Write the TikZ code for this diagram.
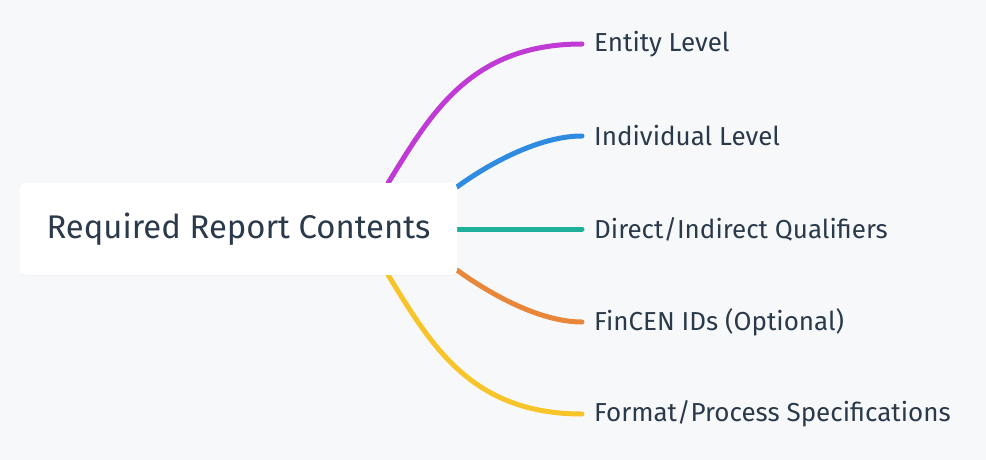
\documentclass[tikz,border=0pt]{standalone}
\usepackage{fontspec}
\setmainfont{Fira Sans}
\usetikzlibrary{positioning,calc,shadows,backgrounds}
\definecolor{bgcol}{HTML}{F7F8FA}
\definecolor{inkcol}{HTML}{2B3A4A}
\definecolor{entcol}{HTML}{C03BD6}
\definecolor{indcol}{HTML}{2E8BDF}
\definecolor{qualcol}{HTML}{1FB09A}
\definecolor{fincol}{HTML}{E8873A}
\definecolor{fmtcol}{HTML}{F7C52A}
\tikzset{
  rootbox/.style={fill=white, rounded corners=5pt, minimum width=437pt, minimum height=92pt,
    inner sep=0pt, text=inkcol, font=\fontsize{32.8}{38}\selectfont,
    drop shadow={shadow xshift=0pt, shadow yshift=-1pt, opacity=0.06}},
  leaf/.style={anchor=west, inner sep=0pt, text=inkcol, font=\fontsize{26}{30}\selectfont},
  branch/.style={line width=5pt, line cap=round},
}
\begin{document}
\begin{tikzpicture}[x=1pt,y=-1pt]
 \useasboundingbox (0,0) rectangle (986,460);
 % centre box and the five items
 \node[rootbox] (root) at (238.5,229) {Required Report Contents};
 \node[leaf] (entity) at (594,44) {Entity Level};
 \node[leaf] (indiv) at (594,136) {Individual Level};
 \node[leaf] (qual) at (594,229) {Direct/Indirect Qualifiers};
 \node[leaf] (fincen) at (594,322) {FinCEN IDs (Optional)};
 \node[leaf] (format) at (594,414) {Format/Process Specifications};
 \begin{scope}[on background layer]
  \fill[bgcol] (0,0) rectangle (986,460);
  \draw[branch,entcol] ([xshift=-69pt]root.north east) .. controls +(42,-68) and +(-112,0) .. ([xshift=-12pt]entity.west);
  \draw[branch,indcol] ([yshift=-4pt]root.north east) .. controls +(33,-24) and +(-42,0) .. ([xshift=-12pt]indiv.west);
  \draw[branch,qualcol] (root.east) -- ([xshift=-12pt]qual.west);
  \draw[branch,fincol] ([yshift=5pt]root.south east) .. controls +(33,24) and +(-42,0) .. ([xshift=-12pt]fincen.west);
  \draw[branch,fmtcol] ([xshift=-69pt]root.south east) .. controls +(42,68) and +(-112,0) .. ([xshift=-12pt]format.west);
 \end{scope}
\end{tikzpicture}
\end{document}
